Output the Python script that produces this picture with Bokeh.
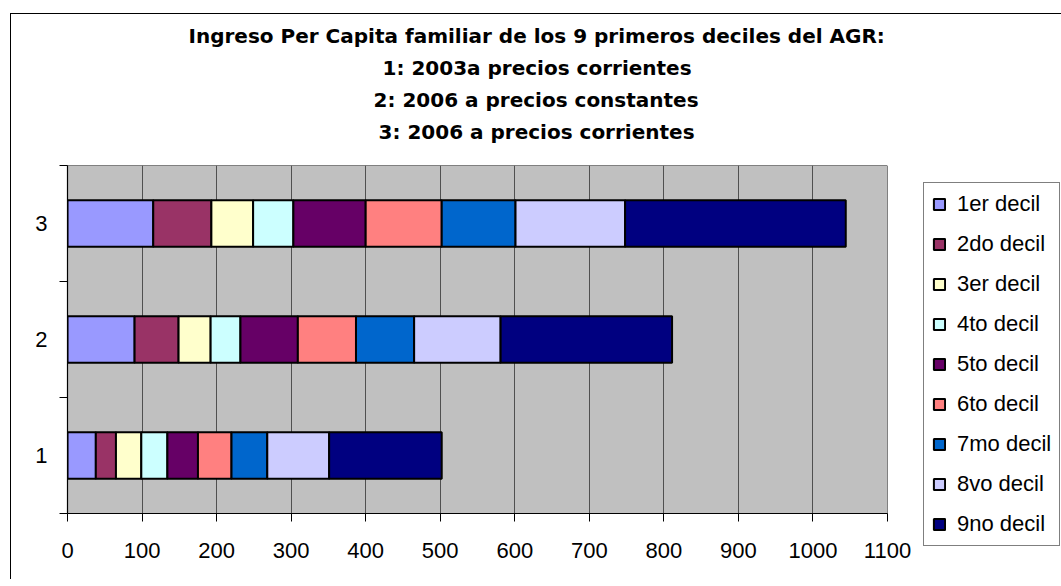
from bokeh.plotting import figure
from bokeh.models import (ColumnDataSource, Range1d, FixedTicker, Title, LinearAxis,
                          CustomJSTickFormatter)
from bokeh.embed import file_html
from bokeh.resources import INLINE

# ---- data ----
categories = ["1", "2", "3"]
decile_names = ["1er decil", "2do decil", "3er decil", "4to decil", "5to decil",
                "6to decil", "7mo decil", "8vo decil", "9no decil"]
dec_1er = [38, 90, 115]
dec_2do = [27, 59, 78]
dec_3er = [34, 43, 56]
dec_4to = [35, 40, 54]
dec_5to = [41, 77, 97]
dec_6to = [45, 78, 102]
dec_7mo = [48, 78, 99]
dec_8vo = [83, 116, 147]
dec_9no = [151, 230, 296]
x_ticks = [0, 100, 200, 300, 400, 500, 600, 700, 800, 900, 1000, 1100]
title_lines = [
    "Ingreso Per Capita familiar de los 9 primeros deciles del  AGR:",
    "1: 2003a precios corrientes",
    "2: 2006 a precios constantes",
    "3: 2006 a precios corrientes",
]

colors = ["#9999FF", "#993366", "#FFFFCC", "#CCFFFF", "#660066",
          "#FF8080", "#0066CC", "#CCCCFF", "#000080"]

series = [dec_1er, dec_2do, dec_3er, dec_4to, dec_5to, dec_6to, dec_7mo, dec_8vo, dec_9no]
keys = [f"d{i}" for i in range(len(series))]
data = {"y": [i + 0.5 for i in range(len(categories))]}
for k, s in zip(keys, series):
    data[k] = s
source = ColumnDataSource(data)

FONT = "Liberation Sans"
TFONT = "DejaVu Sans"

p = figure(frame_width=820, frame_height=348, output_backend="svg", toolbar_location=None,
           x_range=Range1d(x_ticks[0], x_ticks[-1]), y_range=Range1d(0, len(categories)),
           min_border_left=56, min_border_right=169, min_border_top=151, min_border_bottom=66,
           background_fill_color="#C0C0C0", border_fill_color="white",
           outline_line_color="#808080")

p.styles = {"border-left": "1.5px solid #000000", "border-top": "1.5px solid #000000",
            "margin-left": "10px", "margin-top": "13px"}

rs = p.hbar_stack(keys, y="y", height=0.4, color=colors, source=source,
                  line_color="black", line_width=2, legend_label=decile_names)

# x axis
xt = FixedTicker(ticks=x_ticks)
p.xaxis.ticker = xt
p.xgrid.ticker = xt
p.xgrid.grid_line_color = "#505050"
p.xgrid.grid_line_width = 1
p.ygrid.grid_line_color = None
p.xaxis.major_tick_out = 8
p.xaxis.major_tick_in = 0
p.xaxis.minor_tick_line_color = None
p.xaxis.major_tick_line_color = "black"
p.xaxis.axis_line_color = "black"
p.xaxis.axis_line_width = 1.2
p.xaxis.major_label_standoff = 21
p.xaxis.major_label_text_font = FONT
p.xaxis.major_label_text_font_size = "22px"
p.xaxis.major_label_text_color = "black"

# y axis: labels at category centres, tick marks at boundaries
centers = [i + 0.5 for i in range(len(categories))]
bounds = [i for i in range(len(categories) + 1)]
p.yaxis.ticker = FixedTicker(ticks=centers, minor_ticks=bounds)
p.yaxis.major_label_overrides = {c: lab for c, lab in zip(centers, categories)}
p.yaxis.major_tick_line_color = None
p.yaxis.major_tick_out = 0
p.yaxis.major_tick_in = 0
p.yaxis.minor_tick_line_color = "black"
p.yaxis.minor_tick_out = 8
p.yaxis.minor_tick_in = 0
p.yaxis.axis_line_color = "black"
p.yaxis.axis_line_width = 1.2
p.yaxis.major_label_standoff = 12
p.yaxis.major_label_text_font = FONT
p.yaxis.major_label_text_font_size = "22px"
p.yaxis.major_label_text_color = "black"

# legend (in the right side panel so it is not clipped by the frame)
lg = p.legend[0]
p.center.remove(lg)
p.add_layout(lg, "right")
lg.location = (36, -33)
lg.border_line_color = "black"
lg.border_line_width = 1
lg.background_fill_color = "white"
lg.background_fill_alpha = 1
lg.margin = 0
lg.padding = 8
lg.spacing = 14
lg.label_height = 24
lg.glyph_height = 14
lg.glyph_width = 14
lg.label_standoff = 11
lg.label_text_font = FONT
lg.label_text_font_size = "22px"
lg.label_text_color = "black"

# spacer between the frame and the title block: a label-less axis whose single
# white tick (on white background) only reserves vertical room
spacer = LinearAxis(ticker=FixedTicker(ticks=[x_ticks[-1]], minor_ticks=[]),
                    formatter=CustomJSTickFormatter(code="return ''"),
                    axis_line_color=None,
                    major_tick_line_color="white", minor_tick_line_color=None,
                    major_tick_out=19, major_tick_in=0, minor_tick_out=0, minor_tick_in=0,
                    major_label_standoff=0, major_label_text_font_size="0px")
p.add_layout(spacer, "above")

# title lines (stacked in the "above" panel, nearest to the frame first)
p.title.text = ""
title_offsets = [121, 315, 306, 311]
for txt, off in reversed(list(zip(title_lines, title_offsets))):
    p.add_layout(Title(text=txt, align="left", offset=off, standoff=5.5,
                       text_font=TFONT, text_font_style="bold",
                       text_font_size="20px", text_color="black"), "above")

open("out.html", "w").write(file_html(p, INLINE))
